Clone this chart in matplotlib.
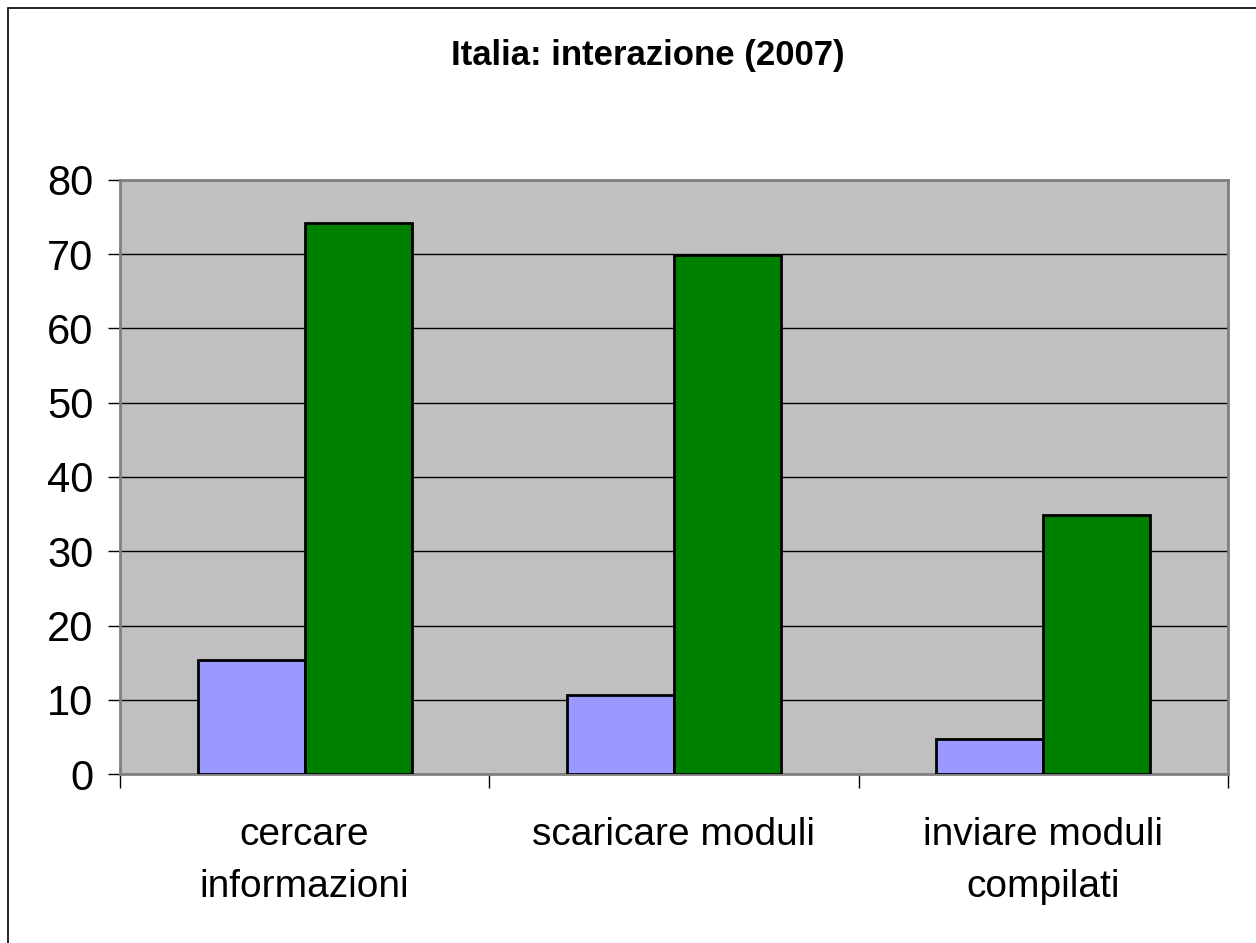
import matplotlib
matplotlib.use("Agg")
import matplotlib.pyplot as plt
import numpy as np
from matplotlib.patches import Rectangle

categories = ["cercare\ninformazioni", "scaricare moduli", "inviare moduli\ncompilati"]
series_a = [15.3, 10.6, 4.7]
series_b = [74.2, 69.9, 34.9]
yticks = [0, 10, 20, 30, 40, 50, 60, 70, 80]
title = "Italia: interazione (2007)"

W, H = 1256, 943
fig = plt.figure(figsize=(W/100, H/100), dpi=100)
fig.patch.set_facecolor("white")

# outer frame
fig.patches.append(Rectangle((8/W, -0.01), 1.1, (H-8)/H + 0.01, transform=fig.transFigure,
                             fill=False, edgecolor="black", linewidth=1.2))

ax = fig.add_axes([120/W, (H-774)/H, (1228-120)/W, (774-180)/H])
ax.set_facecolor("#C0C0C0")

x = np.arange(len(categories))
bw = 0.29
ax.bar(x - bw/2, series_a, width=bw, color="#9999FF", edgecolor="black", linewidth=2, zorder=3)
ax.bar(x + bw/2, series_b, width=bw, color="#008000", edgecolor="black", linewidth=2, zorder=3)

ax.set_xlim(-0.5, len(categories) - 0.5)
ax.set_ylim(0, 80)
ax.set_yticks(yticks)
ax.set_yticklabels([str(v) for v in yticks], fontsize=30, family="Liberation Sans")
ax.yaxis.grid(True, color="black", linewidth=1, zorder=1)
ax.set_axisbelow(True)

ax.set_xticks(np.arange(len(categories) + 1) - 0.5, minor=False)
ax.set_xticklabels([])
ax.set_xticks(x, minor=True)
ax.set_xticklabels(categories, minor=True, fontsize=28, family="Liberation Sans", linespacing=1.56)
ax.tick_params(axis="x", which="minor", length=0, pad=31)
ax.tick_params(axis="x", which="major", length=10, width=1, direction="out", color="black")
ax.tick_params(axis="y", length=9, width=1, direction="out", pad=10)

for s in ["top", "right", "left", "bottom"]:
    ax.spines[s].set_color("#808080")
    ax.spines[s].set_linewidth(2)

fig.text(648/W, 1 - 55/H, title, ha="center", va="center", fontsize=25,
         fontweight="bold", family="Liberation Sans")

fig.savefig("out.png", dpi=100)
